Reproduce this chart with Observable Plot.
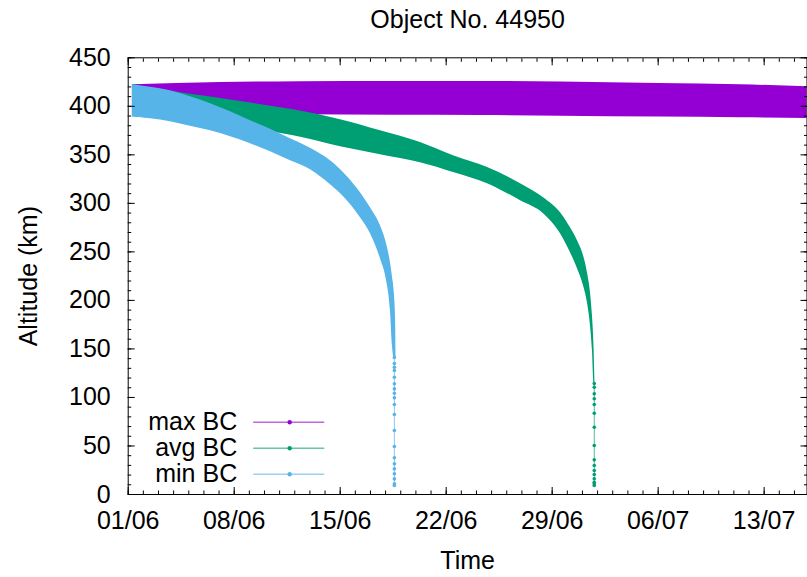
<!DOCTYPE html>
<html>
<head>
<meta charset="utf-8">
<script src="https://cdn.jsdelivr.net/npm/d3@7"></script>
<script src="https://cdn.jsdelivr.net/npm/@observablehq/plot@0.6"></script>
<style>
  html, body { margin: 0; padding: 0; background: #fff; }
  svg { display: block; }
</style>
</head>
<body>
<div id="chart"></div>
<script>
// ---------------- data ----------------
const chartTitle = "Object No. 44950";
const xLabel = "Time";
const yLabel = "Altitude (km)";
const seriesNames = ["max BC", "avg BC", "min BC"];
const seriesColors = ["#9400d3", "#009e73", "#56b4e9"];
const year = 2020;
const startDay = [6, 1];          // month, day of first tick (01/06)
const xEndDay = 44.83;            // days after start where the plot ends

// max BC band (days after 01/06, upper and lower altitude in km)
const maxDays = [0.28, 6.10, 11.38, 17.32, 23.27, 28.55, 35.03, 40.44, 44.9];
const maxHi   = [422.2, 424.6, 425.3, 425.6, 425.6, 425.0, 423.5, 422.2, 420.1];
const maxLo   = [391.3, 391.3, 391.3, 390.8, 390.6, 389.8, 388.9, 388.2, 387.5];

// avg BC band
const avgDays = [0.28, 2.79, 5.44, 8.08, 10.92, 14.02, 16.66, 19.30, 21.48, 23.73, 25.91, 27.43, 28.55, 29.21, 29.67, 30.07, 30.33, 30.53, 30.66, 30.76, 30.83];
const avgHi   = [422.2, 415.5, 409.6, 403.3, 396.4, 386.2, 374.8, 362.8, 349.1, 337.0, 320.3, 305.8, 290.4, 274.9, 261.6, 246.1, 228.6, 208.0, 184.3, 153.4, 114.3];
const avgLo   = [389.3, 386.2, 382.0, 376.9, 369.7, 358.4, 350.1, 341.9, 331.9, 320.3, 302.8, 289.4, 268.8, 249.2, 232.7, 215.2, 197.7, 174.0, 148.3, 114.3, 114.3];
const avgTailDay = 30.78;
const avgTail = [114.3, 110.5, 103.7, 98.6, 92.7, 83.7, 69.3, 50.5, 35.7, 29.9, 24.7, 20.6, 16.2, 12.7, 11.0, 9.3];

// min BC band
const minDays = [0.28, 1.47, 2.79, 4.11, 5.44, 6.76, 8.08, 9.40, 10.72, 12.04, 13.36, 14.35, 15.34, 16.00, 16.66, 17.06, 17.32, 17.45, 17.56, 17.66, 17.69];
const minHi   = [422.2, 419.6, 416.0, 409.9, 402.7, 394.4, 385.1, 376.4, 366.6, 356.8, 343.9, 329.5, 311.0, 295.5, 277.0, 258.5, 239.0, 224.5, 210.1, 179.2, 141.1];
const minLo   = [389.3, 387.2, 384.1, 379.5, 374.8, 368.7, 361.5, 353.2, 343.9, 334.7, 319.2, 304.8, 285.2, 268.8, 243.0, 220.4, 189.5, 153.4, 141.1, 141.1, 141.1];
const minTailDay = 17.58;
const minTail = [141.1, 135, 131, 127.7, 120.8, 114.0, 108.8, 104.3, 99.6, 92.7, 82.4, 65.9, 49.4, 37.8, 31.6, 26.4, 21.3, 16.1, 11.0, 9.3];

// axis ticks
const xTickLabels = ["01/06", "08/06", "15/06", "22/06", "29/06", "06/07", "13/07"];
const yTicks = [0, 50, 100, 150, 200, 250, 300, 350, 400, 450];

// ---------------- build tables ----------------
const DAY = 864e5;
const t0 = Date.UTC(year, startDay[0] - 1, startDay[1]);
const toDate = d => new Date(t0 + d * DAY);

function band(name, days, hi, lo) {
  return days.map((d, i) => ({series: name, date: toDate(d), hi: hi[i], lo: lo[i]}));
}
function tail(name, day, alts) {
  return alts.map(a => ({series: name, date: toDate(day), alt: a}));
}
const bands = [
  band(seriesNames[0], maxDays, maxHi, maxLo),
  band(seriesNames[1], avgDays, avgHi, avgLo),
  band(seriesNames[2], minDays, minHi, minLo)
];
const tails = [
  null,
  tail(seriesNames[1], avgTailDay, avgTail),
  tail(seriesNames[2], minTailDay, minTail)
];

const xMajor = xTickLabels.map(s => {
  const [d, m] = s.split("/").map(Number);
  return new Date(Date.UTC(year, m - 1, d));
});
const xMinor = d3.range(0, Math.floor(xEndDay) + 1).map(toDate);
const yMinor = d3.range(0, 451, 10);

// ---------------- layout ----------------
const W = 807, H = 577;
const ML = 127.7, MR = 0.5, MT = 57.3, MB = 83;
const FONT = "Liberation Sans, Arial, Helvetica, sans-serif";
const FS = 25;

const marks = [];
bands.forEach((b, i) => {
  marks.push(Plot.areaY(b, {x: "date", y1: "lo", y2: "hi", fill: seriesColors[i], curve: "monotone-x", clip: true}));
  if (tails[i]) {
    marks.push(Plot.lineY(tails[i], {x: "date", y: "alt", stroke: seriesColors[i], strokeWidth: 1, strokeOpacity: 0.7}));
    marks.push(Plot.dot(tails[i], {x: "date", y: "alt", fill: seriesColors[i], r: 1.8}));
  }
});

// frame and inward ticks on all four sides
marks.push(Plot.frame({stroke: "#000", strokeWidth: 1}));
for (const anchor of ["bottom", "top"]) {
  marks.push(Plot.axisX(xMinor, {anchor, tickSize: -3.5, tickFormat: () => "", label: null, stroke: "#000"}));
  marks.push(Plot.axisX(xMajor, {anchor, tickSize: -7, tickFormat: () => "", label: null, stroke: "#000"}));
}
for (const anchor of ["left", "right"]) {
  marks.push(Plot.axisY(yMinor, {anchor, tickSize: -3.5, tickFormat: () => "", label: null, stroke: "#000"}));
  marks.push(Plot.axisY(yTicks, {anchor, tickSize: -7, tickFormat: () => "", label: null, stroke: "#000"}));
}
// tick labels
marks.push(Plot.axisX(xMajor, {anchor: "bottom", tickSize: 0, tickPadding: 17, tickFormat: d3.utcFormat("%d/%m"), label: null, fontSize: FS, fill: "#000"}));
marks.push(Plot.axisY(yTicks, {anchor: "left", tickSize: 0, tickPadding: 17.5, tickFormat: d => String(d), label: null, fontSize: FS, fill: "#000"}));

// titles
marks.push(Plot.text([chartTitle], {frameAnchor: "top", dy: -38, fontSize: FS, textAnchor: "middle", lineAnchor: "middle", fill: "#000"}));
marks.push(Plot.text([xLabel], {frameAnchor: "bottom", dy: 66, fontSize: FS, textAnchor: "middle", lineAnchor: "middle", fill: "#000"}));
marks.push(Plot.text([yLabel], {frameAnchor: "left", dx: -99, rotate: -90, fontSize: FS, textAnchor: "middle", lineAnchor: "middle", fill: "#000"}));

// legend (bottom-left inside the frame)
const legendDy = [-72.3, -46.3, -20.3];
const lineShape = {draw(context, l) { context.moveTo(0, 0); context.lineTo(0, -l); }};
seriesNames.forEach((name, i) => {
  marks.push(Plot.text([name], {frameAnchor: "bottom-left", dx: 109, dy: legendDy[i], textAnchor: "end", lineAnchor: "middle", fontSize: FS, fill: "#000"}));
  marks.push(Plot.vector([0], {frameAnchor: "bottom-left", dx: 125.5, dy: legendDy[i], length: 70, rotate: 90, anchor: "start", shape: lineShape, stroke: seriesColors[i], strokeWidth: 1.5, strokeOpacity: 0.6}));
  marks.push(Plot.dot([0], {frameAnchor: "bottom-left", dx: 161.5, dy: legendDy[i], r: 2.2, fill: seriesColors[i]}));
});

const chart = Plot.plot({
  width: W, height: H,
  marginLeft: ML, marginRight: MR, marginTop: MT, marginBottom: MB,
  style: {fontFamily: FONT, fontSize: FS + "px", background: "#fff", color: "#000"},
  x: {type: "utc", domain: [toDate(0), toDate(xEndDay)]},
  y: {type: "linear", domain: [0, 450]},
  marks
});
document.getElementById("chart").appendChild(chart);
</script>
</body>
</html>
